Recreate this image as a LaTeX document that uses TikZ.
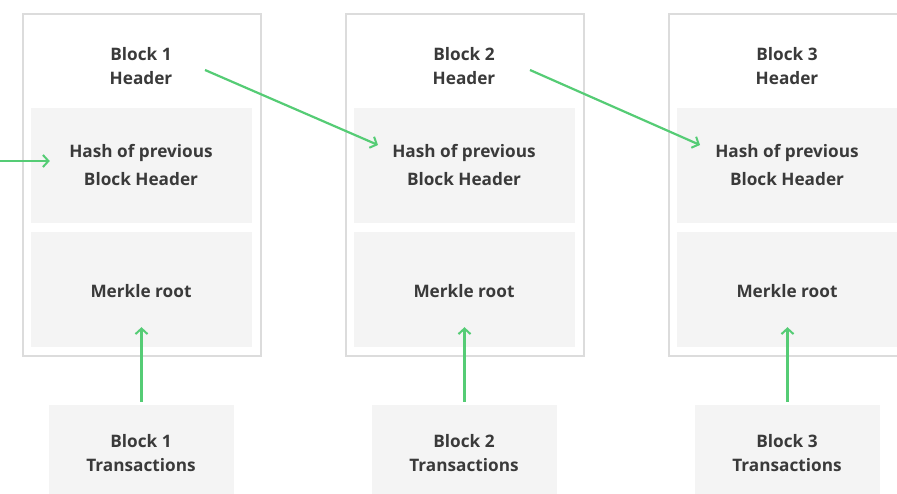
\documentclass[tikz,border=0pt]{standalone}
\usepackage{fontspec}
\setmainfont{Open Sans}
\usetikzlibrary{arrows.meta}
\definecolor{boxfill}{HTML}{F4F4F4}
\definecolor{boxline}{HTML}{DCDCDC}
\definecolor{arrgreen}{HTML}{55CC75}
\definecolor{txt}{HTML}{3A3A3A}
\tikzset{
  outerbox/.style={draw=boxline, line width=2pt, fill=white, rectangle, inner sep=0pt},
  fillbox/.style={fill=boxfill, draw=none, rectangle, inner sep=0pt},
  lbl/.style={text=txt, align=center, inner sep=0pt, font=\fontsize{17.2}{24}\selectfont\bfseries},
  lblhash/.style={lbl, font=\fontsize{17.2}{28}\selectfont\bfseries},
  arr/.style={draw=arrgreen, line width=2.2pt, -{Straight Barb[length=5.5pt,width=12pt,line width=2pt]}}
}
\begin{document}
\begin{tikzpicture}[x=1pt,y=-1pt]
\useasboundingbox (0,0) rectangle (897,494);
\clip (0,0) rectangle (897,494);
\fill[white] (0,0) rectangle (897,494);
\foreach \o/\n in {0/1,323/2,646/3}{
  \begin{scope}[xshift=\o pt]
  \node[outerbox, minimum width=238pt, minimum height=342pt] (blk\n) at (142,185) {};
  \node[fillbox, minimum width=221pt, minimum height=115pt] (hashbox\n) at (141.5,165.5) {};
  \node[fillbox, minimum width=221pt, minimum height=115pt] (merkle\n) at (141.5,289.5) {};
  \node[fillbox, minimum width=185pt, minimum height=100pt] (tx\n) at (141.5,455) {};
  \node[lbl] (hdr\n) at (141,66.5) {Block \n\\Header};
  \node[lblhash] (hash\n) at (141,165) {Hash of previous\\Block Header};
  \node[lbl] (mtxt\n) at (141,291) {Merkle root};
  \node[lbl] (txt\n) at (141,453.5) {Block \n\\Transactions};
  \end{scope}
}
\foreach \n in {1,2,3}{
  \draw[arr] ([yshift=3pt]tx\n.north) -- ([yshift=20pt]merkle\n.south);
}
\coordinate (inarr) at (0,161);
\coordinate (s1) at (205,70);
\coordinate (e1) at (378,145);
\coordinate (s2) at (530,70);
\coordinate (e2) at (700,145);
\draw[arr] (inarr) -- ([xshift=19pt,yshift=4.5pt]hashbox1.west);
\draw[arr] (s1) -- (e1);
\draw[arr] (s2) -- (e2);
\end{tikzpicture}
\end{document}
